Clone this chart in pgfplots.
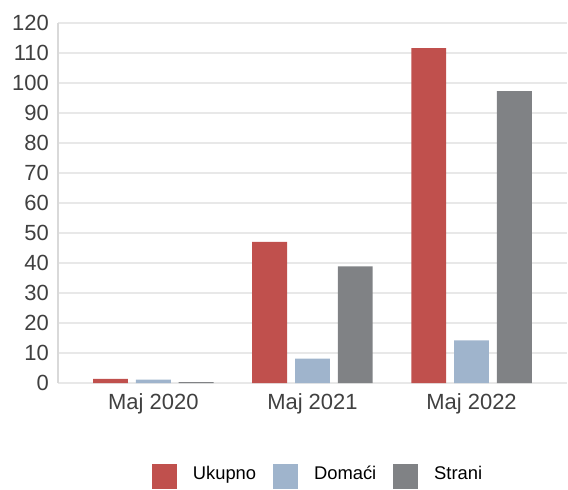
\documentclass[border=0pt]{standalone}
\usepackage{fontspec}
\setmainfont{Liberation Sans}
\usepackage{pgfplots}
\pgfplotsset{compat=1.18}
\definecolor{cred}{HTML}{C0504D}
\definecolor{cblue}{HTML}{9FB4CC}
\definecolor{cgray}{HTML}{808285}
\definecolor{gridc}{HTML}{E8E8E8}
\definecolor{axc}{HTML}{D9D9D9}
\definecolor{txt}{HTML}{404040}
\begin{document}
\begin{tikzpicture}
\begin{axis}[
  scale only axis,
  width=255pt, height=180.2pt,
  xmin=-0.6, xmax=2.6,
  ymin=0, ymax=120,
  ytick={0,10,...,120},
  xtick={0,1,2},
  xticklabels={Maj 2020,Maj 2021,Maj 2022},
  /pgf/number format/assume math mode=true,
  tick style={draw=none},
  axis lines*=left,
  x axis line style={draw=gridc, line width=1pt, -},
  y axis line style={draw=axc, line width=1pt, -},
  ymajorgrids,
  major grid style={draw=gridc, line width=1pt},
  tick label style={font=\fontsize{11}{13}\selectfont, text=txt},
  yticklabel style={xshift=-1pt},
  xticklabel style={yshift=-2pt},
  bar width=0.219,
  legend columns=3,
  legend style={draw=none, fill=none, inner sep=0pt, at={(0.513,-0.219)}, anchor=north,
    font=\fontsize{9.2}{11}\selectfont, text=black,
    /tikz/every odd column/.append style={column sep=6pt},
    /tikz/every even column/.append style={column sep=6.5pt}},
  legend image code/.code={\fill[#1] (0pt,-7.5pt) rectangle (12.5pt,5pt);},
  clip=false,
]
\addplot[ybar, fill=cred, draw=none, bar shift=-0.269] coordinates {(0,1.4) (1,47.1) (2,111.7)};
\addlegendentry{Ukupno}
\addplot[ybar, fill=cblue, draw=none, bar shift=0] coordinates {(0,1.1) (1,8.1) (2,14.2)};
\addlegendentry{Domaći}
\addplot[ybar, fill=cgray, draw=none, bar shift=0.269] coordinates {(0,0.3) (1,38.9) (2,97.4)};
\addlegendentry{Strani}
\end{axis}
\path[use as bounding box] ([xshift=-29pt,yshift=-50.65pt]current axis.south west) rectangle ([yshift=11.65pt]current axis.north east);
\end{tikzpicture}
\end{document}
